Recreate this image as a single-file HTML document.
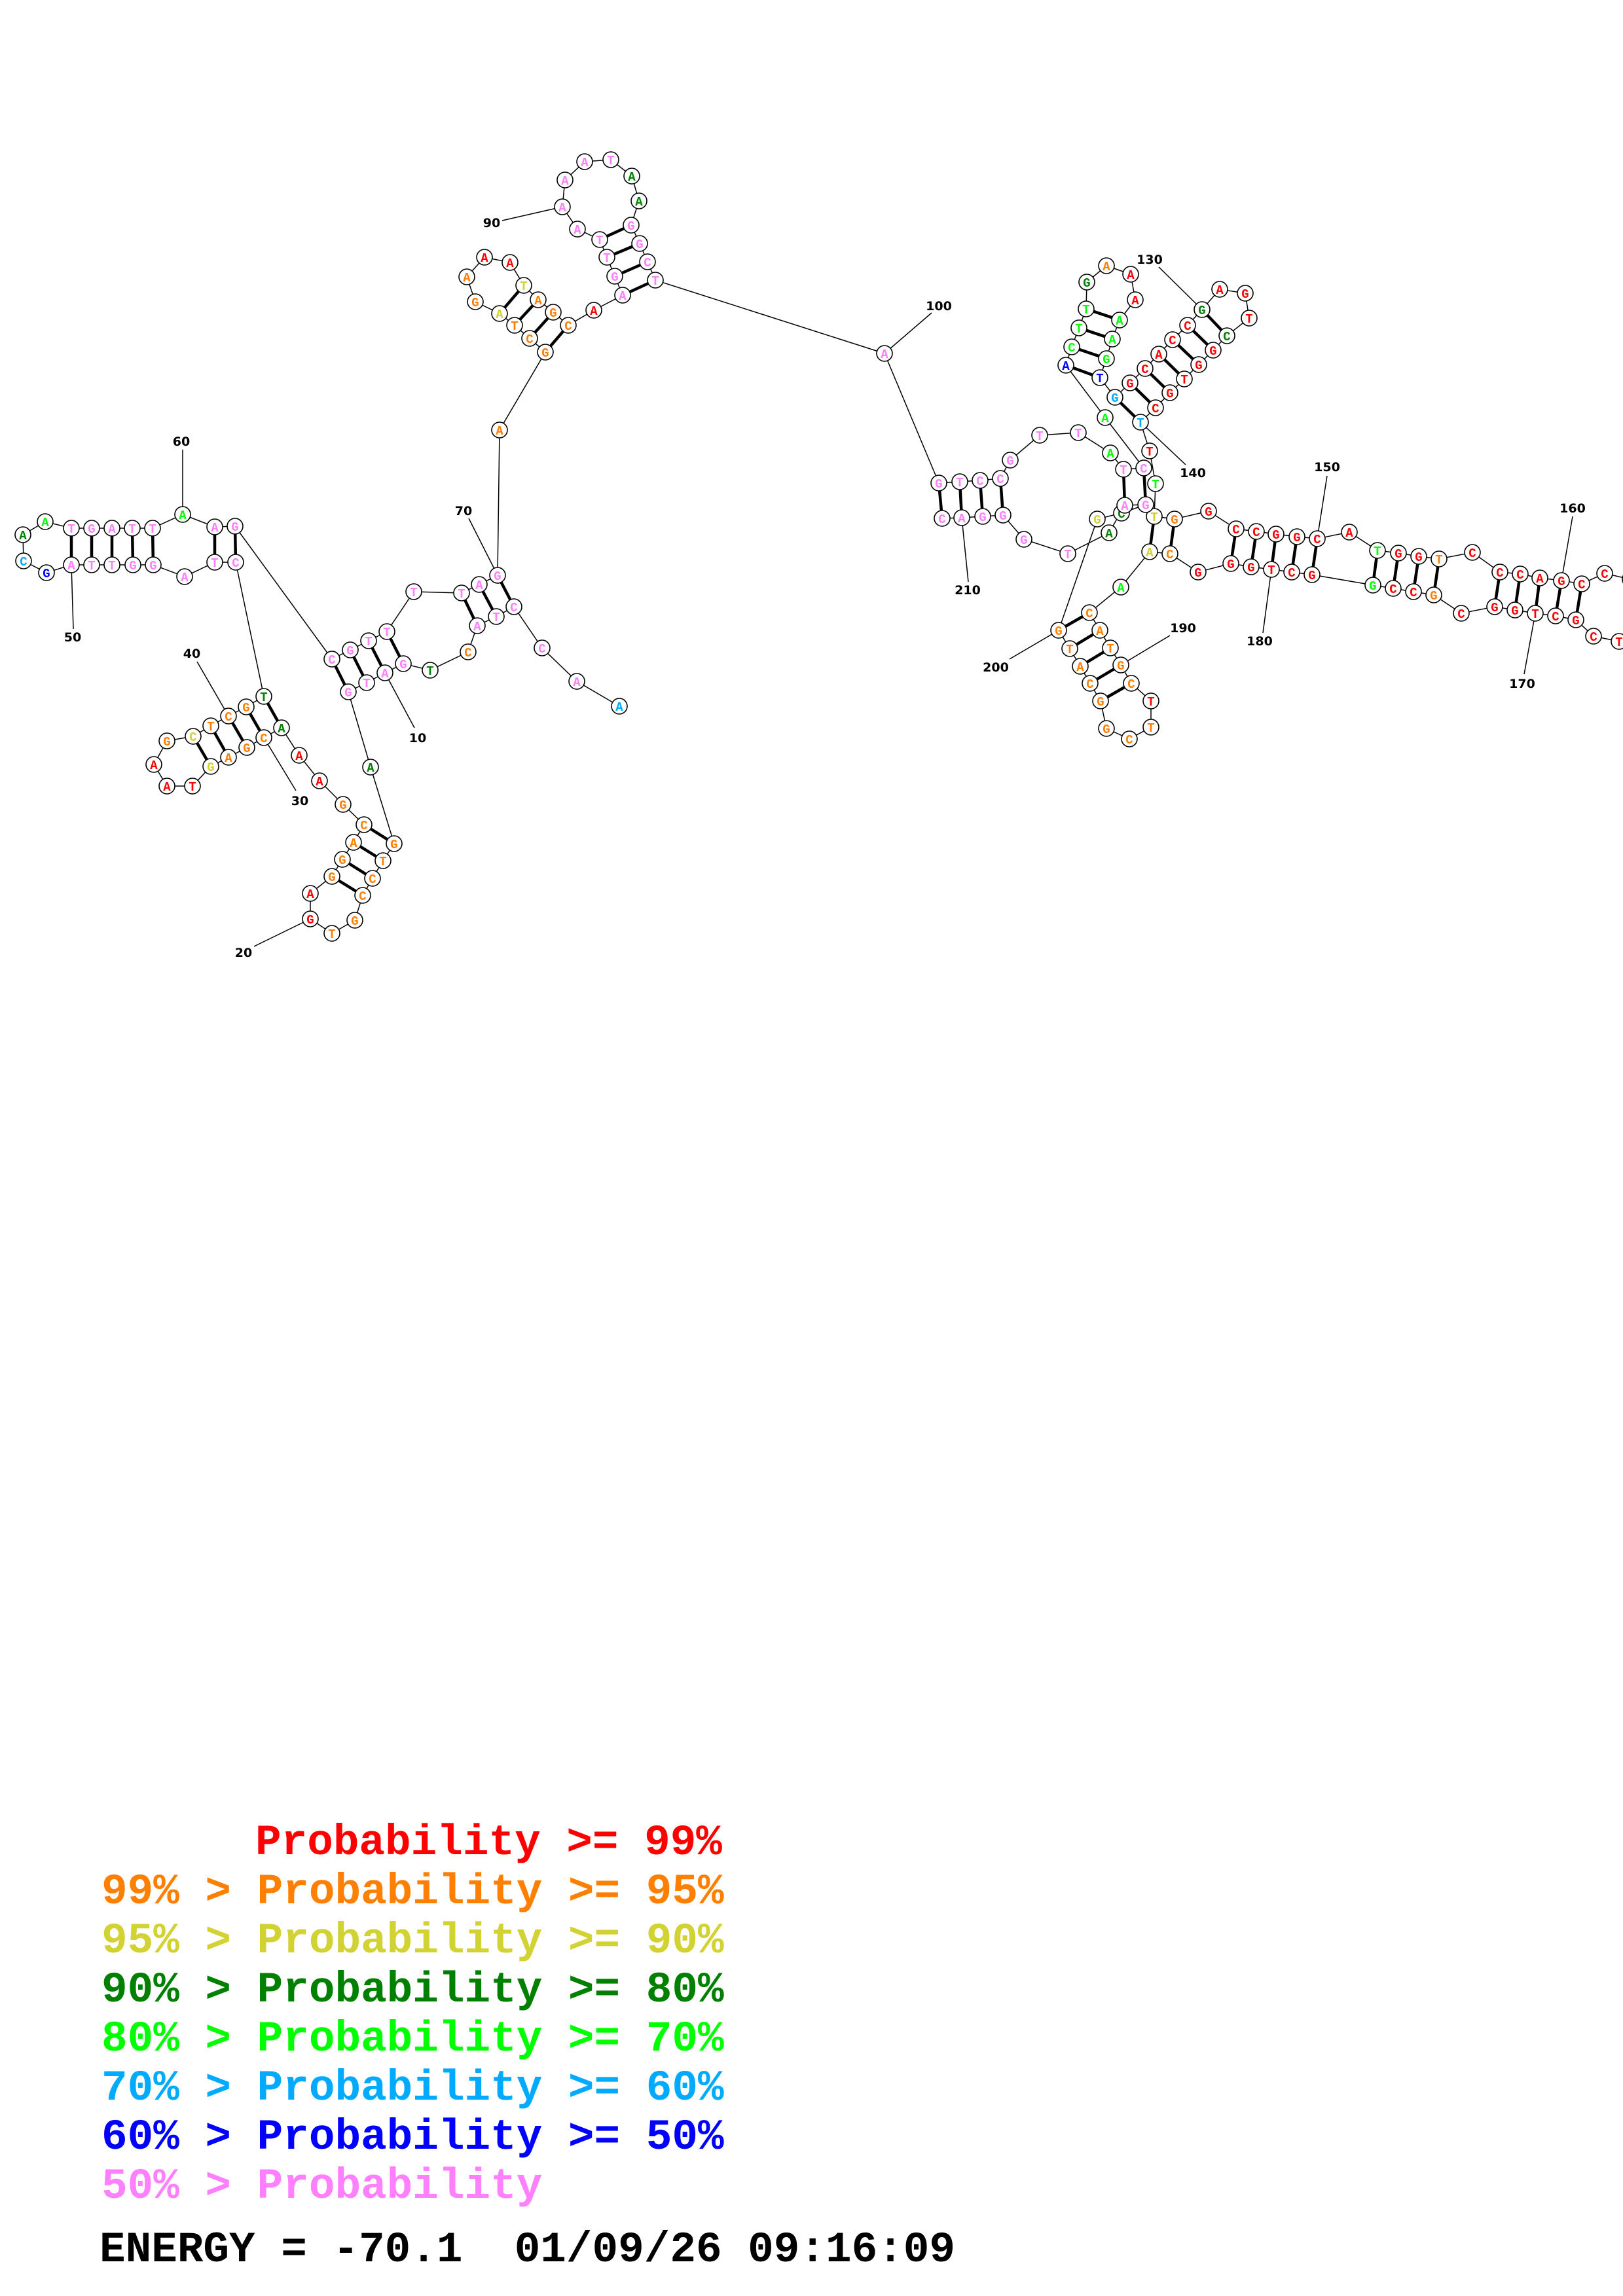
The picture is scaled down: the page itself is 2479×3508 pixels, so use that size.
<!DOCTYPE html>
<html><head><meta charset="utf-8"><style>
html,body{margin:0;padding:0;background:#fff;}
svg{display:block;}
.n circle{fill:#fff;stroke:#000;stroke-width:1.6;}
.n text{font-family:"Liberation Mono",monospace;font-weight:bold;font-size:19px;text-anchor:middle;}
.r{fill:#ff0000}.o{fill:#ff8000}.y{fill:#d2d232}.dg{fill:#008000}.g{fill:#00ff00}.lb{fill:#00aaff}.b{fill:#0000ff}.p{fill:#ff80ff}
.lab{font-family:"DejaVu Sans","Liberation Sans",sans-serif;font-weight:bold;font-size:19px;text-anchor:middle;fill:#000}
.leg{font-family:"Liberation Mono",monospace;font-weight:bold;font-size:66px;}
</style></head><body>
<svg width="2479" height="3508" viewBox="0 0 2479 3508" xmlns="http://www.w3.org/2000/svg">
<g stroke="#000" stroke-width="1.5" fill="none">
<polyline points="946,1079 881,1041 828,990 785,927 758,942 729,956 715,996 657,1024 616,1014 588,1028 560,1043 532,1057 566,1172 602,1289 585,1315 569,1342 554,1368 542,1406 507,1426 474,1404 474,1365 507,1339 523,1313 540,1287 556,1260 524,1229 488,1193 457,1154 430,1112 403,1127 377,1142 349,1157 322,1171 294,1201 255,1201 235,1168 255,1132 295,1125 322,1109 349,1094 376,1080 403,1064 360,859 328,859 282,881 234,863 203,863 171,863 140,863 109,863 71,875 36,857 35,817 69,797 109,807 140,807 171,807 202,807 233,807 279,786 328,805 359,804 507,1007 535,993 563,979 591,965 632,904 705,906 732,893 760,879 763,657 833,538 809,517 786,497 763,479 726,461 713,423 740,393 779,401 800,436 822,458 845,477 868,497 907,474 951,451 939,422 927,393 916,366 882,350 859,316 863,275 893,247 933,244 965,269 976,307 964,344 977,372 989,400 1001,428 1351,540 1434,738 1466,736 1497,734 1528,731 1543,703 1588,665 1647,661 1696,692 1716,717 1747,715 1688,638 1628,558 1637,530 1648,501 1659,472 1660,431 1690,406 1727,419 1734,458 1710,489 1699,518 1690,548 1680,577 1703,607 1726,585 1749,563 1770,541 1791,519 1814,497 1836,473 1863,442 1902,448 1908,486 1874,513 1853,535 1831,557 1809,579 1787,600 1765,623 1742,645 1756,689 1765,739 1763,789 1794,793 1846,781 1888,808 1919,812 1949,816 1981,820 2012,823 2061,813 2104,841 2136,845 2167,850 2198,854 2249,844 2291,874 2322,877 2352,883 2385,887 2416,892 2451,876 2490,885 2520,930 2505,975 2473,980 2434,972 2407,947 2376,941 2345,937 2314,932 2283,927 2232,937 2190,909 2159,904 2128,899 2097,894 2004,878 1973,874 1942,870 1911,866 1880,861 1830,874 1787,846 1756,843 1712,897 1664,936 1680,963 1696,990 1712,1016 1728,1044 1758,1071 1758,1111 1725,1129 1690,1113 1681,1071 1665,1044 1650,1018 1634,991 1617,963 1676,793 1713,784 1750,771 1718,772 1694,814 1631,846 1564,824 1532,787 1501,789 1469,791 1439,792"/>
<!-- leaders -->
<path d="M588,1028 L633,1112 M474,1404 L388,1446 M403,1127 L452,1208 M349,1094 L301,1011 M109,863 L112,961 M279,786 L279,687 M760,879 L716,792 M859,316 L767,337 M1351,540 L1423,478 M1836,473 L1770,408 M1742,645 L1811,710 M2012,823 L2027,727 M2385,887 L2402,789 M2345,937 L2328,1030 M1942,870 L1929,967 M1712,1016 L1787,971 M1617,963 L1542,1007 M1469,791 L1479,889"/>
</g>
<g stroke="#000" stroke-width="4.5">
<path d="M785,927L760,879M758,942L732,893M729,956L705,906M616,1014L591,965M588,1028L563,979M560,1043L535,993M532,1057L507,1007M602,1289L556,1260M585,1315L540,1287M569,1342L523,1313M554,1368L507,1339M430,1112L403,1064M403,1127L376,1080M377,1142L349,1094M349,1157L322,1109M322,1171L295,1125M360,859L359,804M328,859L328,805M234,863L233,807M203,863L202,807M171,863L171,807M140,863L140,807M109,863L109,807M833,538L868,497M809,517L845,477M786,497L822,458M763,479L800,436M951,451L1001,428M939,422L989,400M927,393L977,372M916,366L964,344M1434,738L1439,792M1466,736L1469,791M1497,734L1501,789M1528,731L1532,787M1716,717L1718,772M1747,715L1750,771M1628,558L1680,577M1637,530L1690,548M1648,501L1699,518M1659,472L1710,489M1703,607L1742,645M1726,585L1765,623M1749,563L1787,600M1770,541L1809,579M1791,519L1831,557M1814,497L1853,535M1836,473L1874,513M1763,789L1756,843M1794,793L1787,846M1888,808L1880,861M1919,812L1911,866M1949,816L1942,870M1981,820L1973,874M2012,823L2004,878M2104,841L2097,894M2136,845L2128,899M2167,850L2159,904M2198,854L2190,909M2291,874L2283,927M2322,877L2314,932M2352,883L2345,937M2385,887L2376,941M2416,892L2407,947M1664,936L1617,963M1680,963L1634,991M1696,990L1650,1018M1712,1016L1665,1044M1728,1044L1681,1071"/>
</g>
<g class="n">
<circle cx="946" cy="1079" r="12"/><text x="946" y="1086" class="lb">A</text>
<circle cx="881" cy="1041" r="12"/><text x="881" y="1048" class="p">A</text>
<circle cx="828" cy="990" r="12"/><text x="828" y="997" class="p">C</text>
<circle cx="785" cy="927" r="12"/><text x="785" y="934" class="p">C</text>
<circle cx="758" cy="942" r="12"/><text x="758" y="949" class="p">T</text>
<circle cx="729" cy="956" r="12"/><text x="729" y="963" class="p">A</text>
<circle cx="715" cy="996" r="12"/><text x="715" y="1003" class="o">C</text>
<circle cx="657" cy="1024" r="12"/><text x="657" y="1031" class="dg">T</text>
<circle cx="616" cy="1014" r="12"/><text x="616" y="1021" class="p">G</text>
<circle cx="588" cy="1028" r="12"/><text x="588" y="1035" class="p">A</text>
<circle cx="560" cy="1043" r="12"/><text x="560" y="1050" class="p">T</text>
<circle cx="532" cy="1057" r="12"/><text x="532" y="1064" class="p">G</text>
<circle cx="566" cy="1172" r="12"/><text x="566" y="1179" class="dg">A</text>
<circle cx="602" cy="1289" r="12"/><text x="602" y="1296" class="o">G</text>
<circle cx="585" cy="1315" r="12"/><text x="585" y="1322" class="o">T</text>
<circle cx="569" cy="1342" r="12"/><text x="569" y="1349" class="o">C</text>
<circle cx="554" cy="1368" r="12"/><text x="554" y="1375" class="o">C</text>
<circle cx="542" cy="1406" r="12"/><text x="542" y="1413" class="o">G</text>
<circle cx="507" cy="1426" r="12"/><text x="507" y="1433" class="o">T</text>
<circle cx="474" cy="1404" r="12"/><text x="474" y="1411" class="r">G</text>
<circle cx="474" cy="1365" r="12"/><text x="474" y="1372" class="r">A</text>
<circle cx="507" cy="1339" r="12"/><text x="507" y="1346" class="o">G</text>
<circle cx="523" cy="1313" r="12"/><text x="523" y="1320" class="o">G</text>
<circle cx="540" cy="1287" r="12"/><text x="540" y="1294" class="o">A</text>
<circle cx="556" cy="1260" r="12"/><text x="556" y="1267" class="o">C</text>
<circle cx="524" cy="1229" r="12"/><text x="524" y="1236" class="o">G</text>
<circle cx="488" cy="1193" r="12"/><text x="488" y="1200" class="r">A</text>
<circle cx="457" cy="1154" r="12"/><text x="457" y="1161" class="r">A</text>
<circle cx="430" cy="1112" r="12"/><text x="430" y="1119" class="dg">A</text>
<circle cx="403" cy="1127" r="12"/><text x="403" y="1134" class="o">C</text>
<circle cx="377" cy="1142" r="12"/><text x="377" y="1149" class="o">G</text>
<circle cx="349" cy="1157" r="12"/><text x="349" y="1164" class="o">A</text>
<circle cx="322" cy="1171" r="12"/><text x="322" y="1178" class="y">G</text>
<circle cx="294" cy="1201" r="12"/><text x="294" y="1208" class="r">T</text>
<circle cx="255" cy="1201" r="12"/><text x="255" y="1208" class="r">A</text>
<circle cx="235" cy="1168" r="12"/><text x="235" y="1175" class="r">A</text>
<circle cx="255" cy="1132" r="12"/><text x="255" y="1139" class="o">G</text>
<circle cx="295" cy="1125" r="12"/><text x="295" y="1132" class="y">C</text>
<circle cx="322" cy="1109" r="12"/><text x="322" y="1116" class="o">T</text>
<circle cx="349" cy="1094" r="12"/><text x="349" y="1101" class="o">C</text>
<circle cx="376" cy="1080" r="12"/><text x="376" y="1087" class="o">G</text>
<circle cx="403" cy="1064" r="12"/><text x="403" y="1071" class="dg">T</text>
<circle cx="360" cy="859" r="12"/><text x="360" y="866" class="p">C</text>
<circle cx="328" cy="859" r="12"/><text x="328" y="866" class="p">T</text>
<circle cx="282" cy="881" r="12"/><text x="282" y="888" class="p">A</text>
<circle cx="234" cy="863" r="12"/><text x="234" y="870" class="p">G</text>
<circle cx="203" cy="863" r="12"/><text x="203" y="870" class="p">G</text>
<circle cx="171" cy="863" r="12"/><text x="171" y="870" class="p">T</text>
<circle cx="140" cy="863" r="12"/><text x="140" y="870" class="p">T</text>
<circle cx="109" cy="863" r="12"/><text x="109" y="870" class="p">A</text>
<circle cx="71" cy="875" r="12"/><text x="71" y="882" class="b">G</text>
<circle cx="36" cy="857" r="12"/><text x="36" y="864" class="lb">C</text>
<circle cx="35" cy="817" r="12"/><text x="35" y="824" class="dg">A</text>
<circle cx="69" cy="797" r="12"/><text x="69" y="804" class="g">A</text>
<circle cx="109" cy="807" r="12"/><text x="109" y="814" class="p">T</text>
<circle cx="140" cy="807" r="12"/><text x="140" y="814" class="p">G</text>
<circle cx="171" cy="807" r="12"/><text x="171" y="814" class="p">A</text>
<circle cx="202" cy="807" r="12"/><text x="202" y="814" class="p">T</text>
<circle cx="233" cy="807" r="12"/><text x="233" y="814" class="p">T</text>
<circle cx="279" cy="786" r="12"/><text x="279" y="793" class="g">A</text>
<circle cx="328" cy="805" r="12"/><text x="328" y="812" class="p">A</text>
<circle cx="359" cy="804" r="12"/><text x="359" y="811" class="p">G</text>
<circle cx="507" cy="1007" r="12"/><text x="507" y="1014" class="p">C</text>
<circle cx="535" cy="993" r="12"/><text x="535" y="1000" class="p">G</text>
<circle cx="563" cy="979" r="12"/><text x="563" y="986" class="p">T</text>
<circle cx="591" cy="965" r="12"/><text x="591" y="972" class="p">T</text>
<circle cx="632" cy="904" r="12"/><text x="632" y="911" class="p">T</text>
<circle cx="705" cy="906" r="12"/><text x="705" y="913" class="p">T</text>
<circle cx="732" cy="893" r="12"/><text x="732" y="900" class="p">A</text>
<circle cx="760" cy="879" r="12"/><text x="760" y="886" class="p">G</text>
<circle cx="763" cy="657" r="12"/><text x="763" y="664" class="o">A</text>
<circle cx="833" cy="538" r="12"/><text x="833" y="545" class="o">G</text>
<circle cx="809" cy="517" r="12"/><text x="809" y="524" class="o">C</text>
<circle cx="786" cy="497" r="12"/><text x="786" y="504" class="o">T</text>
<circle cx="763" cy="479" r="12"/><text x="763" y="486" class="y">A</text>
<circle cx="726" cy="461" r="12"/><text x="726" y="468" class="o">G</text>
<circle cx="713" cy="423" r="12"/><text x="713" y="430" class="o">A</text>
<circle cx="740" cy="393" r="12"/><text x="740" y="400" class="r">A</text>
<circle cx="779" cy="401" r="12"/><text x="779" y="408" class="r">A</text>
<circle cx="800" cy="436" r="12"/><text x="800" y="443" class="y">T</text>
<circle cx="822" cy="458" r="12"/><text x="822" y="465" class="o">A</text>
<circle cx="845" cy="477" r="12"/><text x="845" y="484" class="o">G</text>
<circle cx="868" cy="497" r="12"/><text x="868" y="504" class="o">C</text>
<circle cx="907" cy="474" r="12"/><text x="907" y="481" class="r">A</text>
<circle cx="951" cy="451" r="12"/><text x="951" y="458" class="p">A</text>
<circle cx="939" cy="422" r="12"/><text x="939" y="429" class="p">G</text>
<circle cx="927" cy="393" r="12"/><text x="927" y="400" class="p">T</text>
<circle cx="916" cy="366" r="12"/><text x="916" y="373" class="p">T</text>
<circle cx="882" cy="350" r="12"/><text x="882" y="357" class="p">A</text>
<circle cx="859" cy="316" r="12"/><text x="859" y="323" class="p">A</text>
<circle cx="863" cy="275" r="12"/><text x="863" y="282" class="p">A</text>
<circle cx="893" cy="247" r="12"/><text x="893" y="254" class="p">A</text>
<circle cx="933" cy="244" r="12"/><text x="933" y="251" class="p">T</text>
<circle cx="965" cy="269" r="12"/><text x="965" y="276" class="dg">A</text>
<circle cx="976" cy="307" r="12"/><text x="976" y="314" class="dg">A</text>
<circle cx="964" cy="344" r="12"/><text x="964" y="351" class="p">G</text>
<circle cx="977" cy="372" r="12"/><text x="977" y="379" class="p">G</text>
<circle cx="989" cy="400" r="12"/><text x="989" y="407" class="p">C</text>
<circle cx="1001" cy="428" r="12"/><text x="1001" y="435" class="p">T</text>
<circle cx="1351" cy="540" r="12"/><text x="1351" y="547" class="p">A</text>
<circle cx="1434" cy="738" r="12"/><text x="1434" y="745" class="p">G</text>
<circle cx="1466" cy="736" r="12"/><text x="1466" y="743" class="p">T</text>
<circle cx="1497" cy="734" r="12"/><text x="1497" y="741" class="p">C</text>
<circle cx="1528" cy="731" r="12"/><text x="1528" y="738" class="p">C</text>
<circle cx="1543" cy="703" r="12"/><text x="1543" y="710" class="p">G</text>
<circle cx="1588" cy="665" r="12"/><text x="1588" y="672" class="p">T</text>
<circle cx="1647" cy="661" r="12"/><text x="1647" y="668" class="p">T</text>
<circle cx="1696" cy="692" r="12"/><text x="1696" y="699" class="g">A</text>
<circle cx="1716" cy="717" r="12"/><text x="1716" y="724" class="p">T</text>
<circle cx="1747" cy="715" r="12"/><text x="1747" y="722" class="p">C</text>
<circle cx="1688" cy="638" r="12"/><text x="1688" y="645" class="g">A</text>
<circle cx="1628" cy="558" r="12"/><text x="1628" y="565" class="b">A</text>
<circle cx="1637" cy="530" r="12"/><text x="1637" y="537" class="g">C</text>
<circle cx="1648" cy="501" r="12"/><text x="1648" y="508" class="g">T</text>
<circle cx="1659" cy="472" r="12"/><text x="1659" y="479" class="g">T</text>
<circle cx="1660" cy="431" r="12"/><text x="1660" y="438" class="dg">G</text>
<circle cx="1690" cy="406" r="12"/><text x="1690" y="413" class="o">A</text>
<circle cx="1727" cy="419" r="12"/><text x="1727" y="426" class="r">A</text>
<circle cx="1734" cy="458" r="12"/><text x="1734" y="465" class="r">A</text>
<circle cx="1710" cy="489" r="12"/><text x="1710" y="496" class="g">A</text>
<circle cx="1699" cy="518" r="12"/><text x="1699" y="525" class="g">A</text>
<circle cx="1690" cy="548" r="12"/><text x="1690" y="555" class="g">G</text>
<circle cx="1680" cy="577" r="12"/><text x="1680" y="584" class="b">T</text>
<circle cx="1703" cy="607" r="12"/><text x="1703" y="614" class="lb">G</text>
<circle cx="1726" cy="585" r="12"/><text x="1726" y="592" class="r">G</text>
<circle cx="1749" cy="563" r="12"/><text x="1749" y="570" class="r">C</text>
<circle cx="1770" cy="541" r="12"/><text x="1770" y="548" class="r">A</text>
<circle cx="1791" cy="519" r="12"/><text x="1791" y="526" class="r">C</text>
<circle cx="1814" cy="497" r="12"/><text x="1814" y="504" class="r">C</text>
<circle cx="1836" cy="473" r="12"/><text x="1836" y="480" class="dg">G</text>
<circle cx="1863" cy="442" r="12"/><text x="1863" y="449" class="r">A</text>
<circle cx="1902" cy="448" r="12"/><text x="1902" y="455" class="r">G</text>
<circle cx="1908" cy="486" r="12"/><text x="1908" y="493" class="r">T</text>
<circle cx="1874" cy="513" r="12"/><text x="1874" y="520" class="dg">C</text>
<circle cx="1853" cy="535" r="12"/><text x="1853" y="542" class="r">G</text>
<circle cx="1831" cy="557" r="12"/><text x="1831" y="564" class="r">G</text>
<circle cx="1809" cy="579" r="12"/><text x="1809" y="586" class="r">T</text>
<circle cx="1787" cy="600" r="12"/><text x="1787" y="607" class="r">G</text>
<circle cx="1765" cy="623" r="12"/><text x="1765" y="630" class="r">C</text>
<circle cx="1742" cy="645" r="12"/><text x="1742" y="652" class="lb">T</text>
<circle cx="1756" cy="689" r="12"/><text x="1756" y="696" class="r">T</text>
<circle cx="1765" cy="739" r="12"/><text x="1765" y="746" class="g">T</text>
<circle cx="1763" cy="789" r="12"/><text x="1763" y="796" class="y">T</text>
<circle cx="1794" cy="793" r="12"/><text x="1794" y="800" class="o">G</text>
<circle cx="1846" cy="781" r="12"/><text x="1846" y="788" class="r">G</text>
<circle cx="1888" cy="808" r="12"/><text x="1888" y="815" class="r">C</text>
<circle cx="1919" cy="812" r="12"/><text x="1919" y="819" class="r">C</text>
<circle cx="1949" cy="816" r="12"/><text x="1949" y="823" class="r">G</text>
<circle cx="1981" cy="820" r="12"/><text x="1981" y="827" class="r">G</text>
<circle cx="2012" cy="823" r="12"/><text x="2012" y="830" class="r">C</text>
<circle cx="2061" cy="813" r="12"/><text x="2061" y="820" class="r">A</text>
<circle cx="2104" cy="841" r="12"/><text x="2104" y="848" class="g">T</text>
<circle cx="2136" cy="845" r="12"/><text x="2136" y="852" class="r">G</text>
<circle cx="2167" cy="850" r="12"/><text x="2167" y="857" class="r">G</text>
<circle cx="2198" cy="854" r="12"/><text x="2198" y="861" class="o">T</text>
<circle cx="2249" cy="844" r="12"/><text x="2249" y="851" class="r">C</text>
<circle cx="2291" cy="874" r="12"/><text x="2291" y="881" class="r">C</text>
<circle cx="2322" cy="877" r="12"/><text x="2322" y="884" class="r">C</text>
<circle cx="2352" cy="883" r="12"/><text x="2352" y="890" class="r">A</text>
<circle cx="2385" cy="887" r="12"/><text x="2385" y="894" class="r">G</text>
<circle cx="2416" cy="892" r="12"/><text x="2416" y="899" class="r">C</text>
<circle cx="2451" cy="876" r="12"/><text x="2451" y="883" class="r">C</text>
<circle cx="2490" cy="885" r="12"/><text x="2490" y="892" class="r">C</text>
<circle cx="2520" cy="930" r="12"/><text x="2520" y="937" class="r">C</text>
<circle cx="2505" cy="975" r="12"/><text x="2505" y="982" class="r">C</text>
<circle cx="2473" cy="980" r="12"/><text x="2473" y="987" class="r">T</text>
<circle cx="2434" cy="972" r="12"/><text x="2434" y="979" class="r">C</text>
<circle cx="2407" cy="947" r="12"/><text x="2407" y="954" class="r">G</text>
<circle cx="2376" cy="941" r="12"/><text x="2376" y="948" class="r">C</text>
<circle cx="2345" cy="937" r="12"/><text x="2345" y="944" class="r">T</text>
<circle cx="2314" cy="932" r="12"/><text x="2314" y="939" class="r">G</text>
<circle cx="2283" cy="927" r="12"/><text x="2283" y="934" class="r">G</text>
<circle cx="2232" cy="937" r="12"/><text x="2232" y="944" class="r">C</text>
<circle cx="2190" cy="909" r="12"/><text x="2190" y="916" class="o">G</text>
<circle cx="2159" cy="904" r="12"/><text x="2159" y="911" class="r">C</text>
<circle cx="2128" cy="899" r="12"/><text x="2128" y="906" class="r">C</text>
<circle cx="2097" cy="894" r="12"/><text x="2097" y="901" class="g">G</text>
<circle cx="2004" cy="878" r="12"/><text x="2004" y="885" class="r">G</text>
<circle cx="1973" cy="874" r="12"/><text x="1973" y="881" class="r">C</text>
<circle cx="1942" cy="870" r="12"/><text x="1942" y="877" class="r">T</text>
<circle cx="1911" cy="866" r="12"/><text x="1911" y="873" class="r">G</text>
<circle cx="1880" cy="861" r="12"/><text x="1880" y="868" class="r">G</text>
<circle cx="1830" cy="874" r="12"/><text x="1830" y="881" class="r">G</text>
<circle cx="1787" cy="846" r="12"/><text x="1787" y="853" class="o">C</text>
<circle cx="1756" cy="843" r="12"/><text x="1756" y="850" class="y">A</text>
<circle cx="1712" cy="897" r="12"/><text x="1712" y="904" class="g">A</text>
<circle cx="1664" cy="936" r="12"/><text x="1664" y="943" class="o">C</text>
<circle cx="1680" cy="963" r="12"/><text x="1680" y="970" class="o">A</text>
<circle cx="1696" cy="990" r="12"/><text x="1696" y="997" class="o">T</text>
<circle cx="1712" cy="1016" r="12"/><text x="1712" y="1023" class="o">G</text>
<circle cx="1728" cy="1044" r="12"/><text x="1728" y="1051" class="o">C</text>
<circle cx="1758" cy="1071" r="12"/><text x="1758" y="1078" class="r">T</text>
<circle cx="1758" cy="1111" r="12"/><text x="1758" y="1118" class="o">T</text>
<circle cx="1725" cy="1129" r="12"/><text x="1725" y="1136" class="o">C</text>
<circle cx="1690" cy="1113" r="12"/><text x="1690" y="1120" class="o">G</text>
<circle cx="1681" cy="1071" r="12"/><text x="1681" y="1078" class="o">G</text>
<circle cx="1665" cy="1044" r="12"/><text x="1665" y="1051" class="o">C</text>
<circle cx="1650" cy="1018" r="12"/><text x="1650" y="1025" class="o">A</text>
<circle cx="1634" cy="991" r="12"/><text x="1634" y="998" class="o">T</text>
<circle cx="1617" cy="963" r="12"/><text x="1617" y="970" class="o">G</text>
<circle cx="1676" cy="793" r="12"/><text x="1676" y="800" class="y">G</text>
<circle cx="1713" cy="784" r="12"/><text x="1713" y="791" class="dg">C</text>
<circle cx="1750" cy="771" r="12"/><text x="1750" y="778" class="p">G</text>
<circle cx="1718" cy="772" r="12"/><text x="1718" y="779" class="p">A</text>
<circle cx="1694" cy="814" r="12"/><text x="1694" y="821" class="dg">A</text>
<circle cx="1631" cy="846" r="12"/><text x="1631" y="853" class="p">T</text>
<circle cx="1564" cy="824" r="12"/><text x="1564" y="831" class="p">G</text>
<circle cx="1532" cy="787" r="12"/><text x="1532" y="794" class="p">G</text>
<circle cx="1501" cy="789" r="12"/><text x="1501" y="796" class="p">G</text>
<circle cx="1469" cy="791" r="12"/><text x="1469" y="798" class="p">A</text>
<circle cx="1439" cy="792" r="12"/><text x="1439" y="799" class="p">C</text>
</g>
<g class="lab">
<text x="638" y="1134">10</text>
<text x="372" y="1462">20</text>
<text x="458" y="1230">30</text>
<text x="293" y="1005">40</text>
<text x="111" y="980">50</text>
<text x="277" y="681">60</text>
<text x="708" y="787">70</text>
<text x="751" y="347">90</text>
<text x="1434" y="474">100</text>
<text x="1756" y="403">130</text>
<text x="1822" y="729">140</text>
<text x="2027" y="720">150</text>
<text x="2402" y="783">160</text>
<text x="2325" y="1051">170</text>
<text x="1924" y="986">180</text>
<text x="1807" y="966">190</text>
<text x="1521" y="1026">200</text>
<text x="1478" y="908">210</text>
</g>
<g class="leg">
<text x="390" y="2833" fill="#ff0000">Probability &gt;= 99%</text>
<text x="155" y="2908" fill="#ff8000">99% &gt; Probability &gt;= 95%</text>
<text x="155" y="2983" fill="#d2d232">95% &gt; Probability &gt;= 90%</text>
<text x="155" y="3058" fill="#008000">90% &gt; Probability &gt;= 80%</text>
<text x="155" y="3133" fill="#00ff00">80% &gt; Probability &gt;= 70%</text>
<text x="155" y="3208" fill="#00aaff">70% &gt; Probability &gt;= 60%</text>
<text x="155" y="3283" fill="#0000ff">60% &gt; Probability &gt;= 50%</text>
<text x="155" y="3358" fill="#ff80ff">50% &gt; Probability</text>
<text x="152" y="3455" fill="#000" xml:space="preserve">ENERGY = -70.1  01/09/26 09:16:09</text>
</g>
</svg>
</body></html>
